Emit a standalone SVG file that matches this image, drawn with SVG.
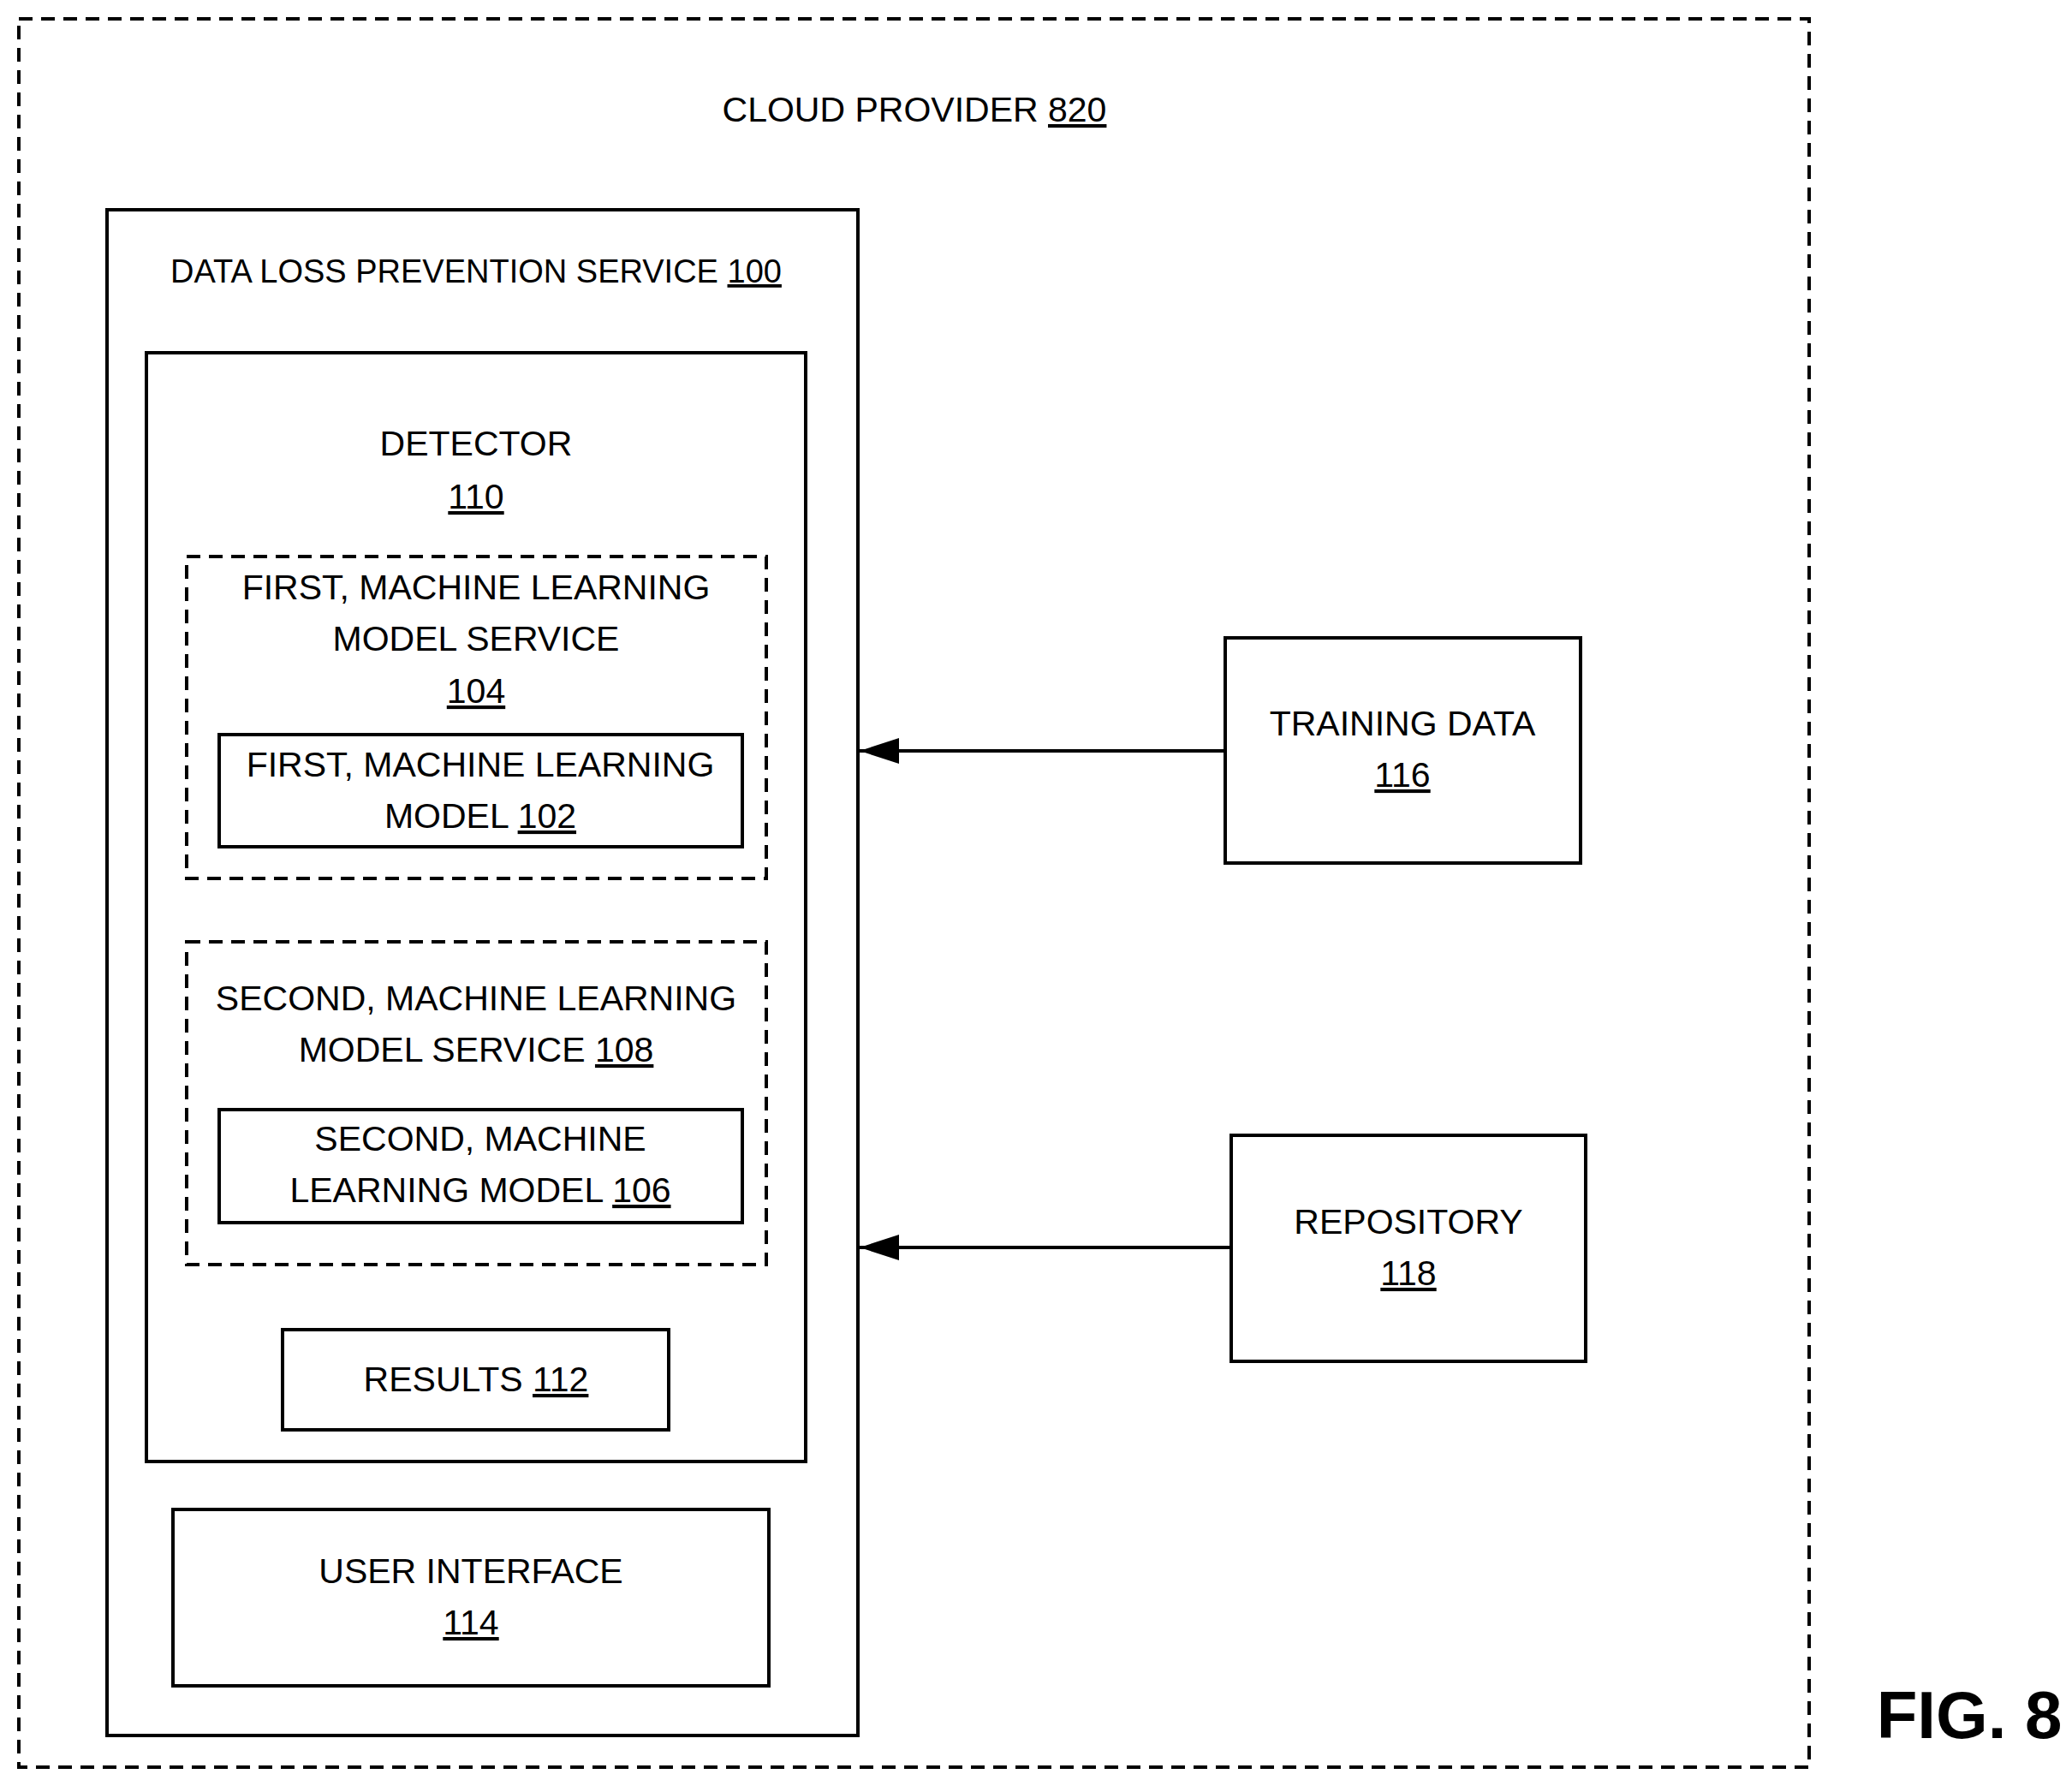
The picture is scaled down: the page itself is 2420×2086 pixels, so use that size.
<svg xmlns="http://www.w3.org/2000/svg" width="2420" height="2086" viewBox="0 0 2420 2086">
<style>
.b{fill:none;stroke:#000;stroke-width:4}
.d{fill:none;stroke:#000;stroke-width:4;stroke-dasharray:16 10}
text{font-family:"Liberation Sans",Arial,sans-serif;font-size:41px;text-anchor:middle;fill:#000}
text.s{font-size:38px}
text.f{font-size:78px;font-weight:bold}
.u{text-decoration:underline}
.c{stroke:#000;stroke-width:4;fill:none}
</style>
<defs>
<marker id="a" viewBox="0 0 46 30" refX="46" refY="15" markerWidth="46" markerHeight="30" orient="auto" markerUnits="userSpaceOnUse"><path d="M0,0 L46,15 L0,30Z" fill="#000"/></marker></defs>
<rect width="2420" height="2086" fill="#fff"/>
<g id="cloud"><rect class="d" x="22" y="22" width="2091" height="2042"/><text x="1068" y="142">CLOUD PROVIDER <tspan class="u">820</tspan></text></g>
<g id="dlp"><rect class="b" x="125" y="245" width="877" height="1782"/><text class="s" x="556" y="330">DATA LOSS PREVENTION SERVICE <tspan class="u">100</tspan></text></g>
<g id="detector"><rect class="b" x="171" y="412" width="770" height="1295"/><text x="556" y="532">DETECTOR</text><text x="556" y="594" class="u">110</text></g>
<g id="svc104"><rect class="d" x="218" y="650" width="677" height="376"/><text x="556" y="700">FIRST, MACHINE LEARNING</text><text x="556" y="760">MODEL SERVICE</text><text x="556" y="821" class="u">104</text></g>
<g id="model102"><rect class="b" x="256" y="858" width="611" height="131"/><text x="561" y="907">FIRST, MACHINE LEARNING</text><text x="561" y="967">MODEL <tspan class="u">102</tspan></text></g>
<g id="svc108"><rect class="d" x="218" y="1100" width="677" height="377"/><text x="556" y="1180">SECOND, MACHINE LEARNING</text><text x="556" y="1240">MODEL SERVICE <tspan class="u">108</tspan></text></g>
<g id="model106"><rect class="b" x="256" y="1296" width="611" height="132"/><text x="561" y="1344">SECOND, MACHINE</text><text x="561" y="1404">LEARNING MODEL <tspan class="u">106</tspan></text></g>
<g id="results"><rect class="b" x="330" y="1553" width="451" height="117"/><text x="556" y="1625">RESULTS <tspan class="u">112</tspan></text></g>
<g id="ui"><rect class="b" x="202" y="1763" width="696" height="206"/><text x="550" y="1849">USER INTERFACE</text><text x="550" y="1909" class="u">114</text></g>
<g id="training"><rect class="b" x="1431" y="745" width="415" height="263"/><text x="1638" y="859">TRAINING DATA</text><text x="1638" y="919" class="u">116</text></g>
<g id="repo"><rect class="b" x="1438" y="1326" width="414" height="264"/><text x="1645" y="1441">REPOSITORY</text><text x="1645" y="1501" class="u">118</text></g>
<g id="connectors"><line class="c" x1="1431" y1="877" x2="1004" y2="877" marker-end="url(#a)"/><line class="c" x1="1438" y1="1457" x2="1004" y2="1457" marker-end="url(#a)"/></g>
<text class="f" x="2300" y="2030">FIG. 8</text>
</svg>
